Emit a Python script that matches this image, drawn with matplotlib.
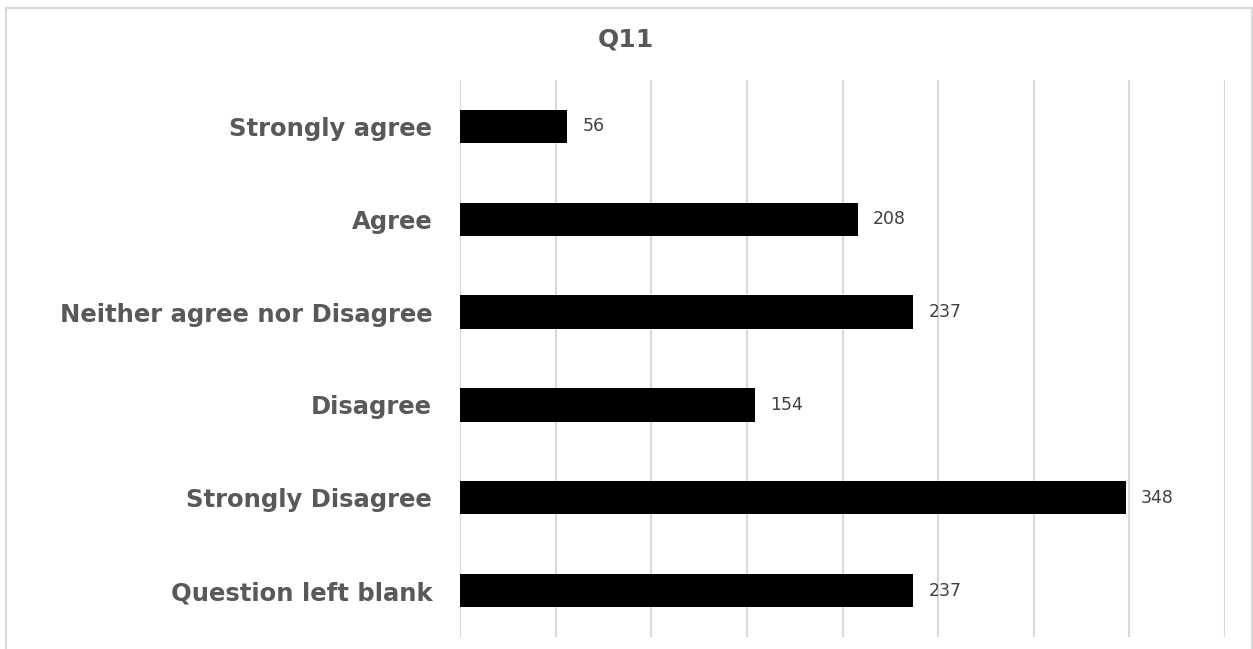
import matplotlib.pyplot as plt
from matplotlib.patches import Rectangle

# Datos del gráfico
categories = [
    "Strongly agree",
    "Agree",
    "Neither agree nor Disagree",
    "Disagree",
    "Strongly Disagree",
    "Question left blank",
]
counts = [56, 208, 237, 154, 348, 237]
title = "Q11"

W, H = 1253, 649
fig = plt.figure(figsize=(W / 100, H / 100), dpi=100)

# Borde del área del gráfico (gris claro, sin borde inferior visible)
fig.patches.append(
    Rectangle((6 / W, -0.05), (1252 - 6) / W, 1.05 - 8 / H,
              transform=fig.transFigure, fill=False,
              edgecolor="#d9d9d9", linewidth=1.5)
)

ax = fig.add_axes([460 / W, 1 - 637 / H, (1225 - 460) / W, (637 - 80) / H])

y = list(range(len(categories)))
ax.barh(y, counts, height=0.36, color="black", zorder=3)
ax.set_ylim(len(categories) - 0.5, -0.5)
ax.set_xlim(0, 400)

# Líneas de cuadrícula cada 50
ax.set_xticks(range(0, 401, 50))
ax.xaxis.grid(True, color="#d9d9d9", linewidth=1.5, zorder=0)
ax.tick_params(axis="x", length=0, labelbottom=False)
ax.tick_params(axis="y", length=0, pad=20)
ax.set_yticks(y)
ax.set_yticklabels(categories, fontfamily="DejaVu Sans", fontweight="bold",
                   fontsize=17.5, color="#595959")
for s in ax.spines.values():
    s.set_visible(False)

# Etiquetas de valores
for yi, v in zip(y, counts):
    ax.text(v + 8, yi, str(v), va="center", ha="left", fontsize=12.5,
            color="#404040", fontfamily="DejaVu Sans")

fig.text(626 / W, 1 - 40 / H, title, ha="center", va="center",
         fontfamily="DejaVu Sans", fontweight="bold", fontsize=18,
         color="#595959")

fig.savefig("out.png", dpi=100)
